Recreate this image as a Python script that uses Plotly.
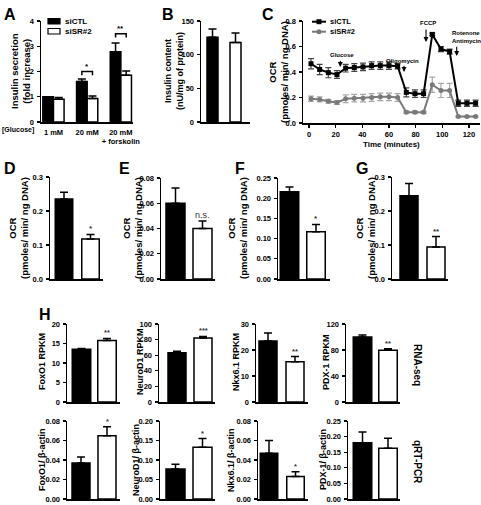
import plotly.graph_objects as go

W, H = 481, 505
FONT = "Liberation Sans"

# ---------------- data ----------------
groups = ["siCTL", "siSR#2"]

A_conditions = ["1 mM", "20 mM", "20 mM<br>+ forskolin"]
A_siCTL = [1.00, 1.60, 2.78]
A_siCTL_err = [0.0, 0.10, 0.35]
A_siSR2 = [0.90, 0.93, 1.85]
A_siSR2_err = [0.07, 0.10, 0.17]
A_sig = ["", "*", "**"]
A_bracket = [None, 2.0, 3.5]

B_content = [126, 118]
B_err = [12, 14]

C_time = [1.5, 8, 14.5, 21, 27.5, 34, 40.5, 47, 53.5, 60, 66.5, 73, 79.5, 86,
          92.5, 99, 105.5, 112, 118.5, 125]
C_siCTL = [0.465, 0.42, 0.395, 0.38, 0.43, 0.435, 0.44, 0.45, 0.45, 0.45, 0.445,
           0.24, 0.23, 0.23, 0.695, 0.58, 0.56, 0.155, 0.155, 0.155]
C_siCTL_err = [0.04, 0.04, 0.04, 0.03, 0.03, 0.03, 0.03, 0.03, 0.03, 0.03, 0.02,
               0.035, 0.03, 0.03, 0.01, 0.02, 0.02, 0.025, 0.025, 0.025]
C_siSR2 = [0.19, 0.185, 0.17, 0.16, 0.19, 0.195, 0.195, 0.20, 0.205, 0.205, 0.20,
           0.085, 0.085, 0.085, 0.30, 0.255, 0.255, 0.05, 0.05, 0.05]
C_siSR2_err = [0.02, 0.02, 0.015, 0.015, 0.03, 0.03, 0.03, 0.03, 0.03, 0.03, 0.03,
               0.01, 0.01, 0.01, 0.06, 0.055, 0.055, 0.005, 0.005, 0.005]
C_events = ["Glucose", "Oligomycin", "FCCP", "Rotenone<br>Antimycin"]
C_event_time = [23.5, 71.3, 87.8, 110.8]

D_ocr = [0.235, 0.118]; D_err = [0.020, 0.013]; D_sig = "*"
E_ocr = [0.060, 0.040]; E_err = [0.012, 0.006]; E_sig = "n.s."
F_ocr = [0.216, 0.117]; F_err = [0.012, 0.018]; F_sig = "*"
G_ocr = [0.245, 0.094]; G_err = [0.036, 0.031]; G_sig = "**"

H_genes = ["FoxO1", "NeuroD1", "Nkx6.1", "PDX-1"]
H_rpkm = [[13.5, 15.8], [63, 82], [23.5, 15.5], [100, 79.5]]
H_rpkm_err = [[0.2, 0.5], [2, 2], [3, 2], [3, 2.5]]
H_rpkm_sig = ["**", "***", "**", "**"]
H_qpcr = [[0.037, 0.065], [0.077, 0.133], [0.047, 0.023], [0.18, 0.163]]
H_qpcr_err = [[0.006, 0.009], [0.012, 0.022], [0.013, 0.005], [0.035, 0.032]]
H_qpcr_sig = ["*", "*", "*", ""]

# ---------------- helpers ----------------
fig = go.Figure()
axes = {}
annotations = []
shapes = []
count = [0]


def tf(size=8):
    return dict(family=FONT, size=size, color="black", weight="bold")


def new_axes(left, right, top, bottom, xkw, ykw):
    count[0] += 1
    n = count[0]
    sx = "" if n == 1 else str(n)
    xa = dict(domain=[left / W, right / W], anchor="y" + sx, showline=True,
              linecolor="black", linewidth=1.5, showgrid=False, zeroline=False,
              ticks="", showticklabels=False, fixedrange=True, automargin=False)
    xa.update(xkw)
    ya = dict(domain=[1 - bottom / H, 1 - top / H], anchor="x" + sx, showline=True,
              linecolor="black", linewidth=1.5, showgrid=False, zeroline=False,
              ticks="outside", ticklen=3, tickwidth=1.2, tickcolor="black",
              tickfont=tf(7.5), ticklabelstandoff=1, fixedrange=True, automargin=False)
    ya.update(ykw)
    axes["xaxis" + sx] = xa
    axes["yaxis" + sx] = ya
    return "x" + sx, "y" + sx


def ytitle(text, x, y, size=9):
    annotations.append(dict(text=text, x=x / W, y=1 - y / H, xref="paper", yref="paper",
                            textangle=-90, showarrow=False, font=tf(size),
                            xanchor="center", yanchor="middle"))


def letter(text, x, y):
    annotations.append(dict(text=text, x=x / W, y=1 - y / H, xref="paper", yref="paper",
                            showarrow=False, font=tf(16), xanchor="left", yanchor="top"))


def bar_panel(values, errs, sig, geom, top, bottom, ymax, dtick, fmt, sig_size=8):
    L, bl, br, wl, wr, R = geom
    c0 = (bl + br) / 2
    c1 = (wl + wr) / 2
    s = c1 - c0
    xr = [-(c0 - L) / s, 1 + (R - c1) / s]
    bw = ((br - bl) + (wr - wl)) / 2 / s
    xa, ya = new_axes(L, R, top, bottom, dict(type="category", range=xr),
                      dict(range=[0, ymax], dtick=dtick, tick0=0, tickformat=fmt))
    fig.add_trace(go.Bar(
        x=groups, y=values, width=bw, xaxis=xa, yaxis=ya, showlegend=False,
        marker=dict(color=["black", "white"], line=dict(color="black", width=1.5)),
        error_y=dict(type="data", array=errs, arrayminus=[0, 0], symmetric=False,
                     color="black", thickness=1.5, width=4)))
    if sig:
        annotations.append(dict(
            text=sig, x=groups[1], y=values[1] + errs[1], xref=xa, yref=ya,
            showarrow=False, yanchor="bottom", yshift=-1,
            font=dict(family=FONT, size=sig_size, color="#333333",
                      weight="normal" if sig == "n.s." else "bold")))
    return xa, ya


# ---------------- panel A ----------------
xa, ya = new_axes(41, 133, 21, 122,
                  dict(type="category", range=[-0.37, 2.36], showticklabels=True,
                       tickangle=0, tickfont=tf(7.5), ticklabelstandoff=2),
                  dict(range=[0, 4], dtick=1))
bw = 0.315
fig.add_trace(go.Bar(x=A_conditions, y=A_siCTL, width=bw, offset=-bw, xaxis=xa, yaxis=ya,
                     name="siCTL", showlegend=False,
                     marker=dict(color="black", line=dict(color="black", width=1.5)),
                     error_y=dict(type="data", array=A_siCTL_err, arrayminus=[0, 0, 0],
                                  symmetric=False, color="black", thickness=1.5, width=4)))
fig.add_trace(go.Bar(x=A_conditions, y=A_siSR2, width=bw, offset=0, xaxis=xa, yaxis=ya,
                     name="siSR#2", showlegend=False,
                     marker=dict(color="white", line=dict(color="black", width=1.5)),
                     error_y=dict(type="data", array=A_siSR2_err, arrayminus=[0, 0, 0],
                                  symmetric=False, color="black", thickness=1.5, width=4)))
for i, (h, sig) in enumerate(zip(A_bracket, A_sig)):
    if h is None:
        continue
    x0, x1 = i - bw / 2, i + bw / 2
    shapes.append(dict(type="path", xref=xa, yref=ya,
                       path=f"M{x0},{h - 0.15} L{x0},{h} L{x1},{h} L{x1},{h - 0.15}",
                       line=dict(color="black", width=1.5)))
    annotations.append(dict(text=sig, x=i, y=h, xref=xa, yref=ya, showarrow=False,
                            yanchor="bottom", yshift=-1, font=tf(8)))
annotations.append(dict(text="[Glucose]", x=0 / W, y=1 - 130 / H, xref="paper", yref="paper",
                        showarrow=False, xanchor="left", yanchor="middle", font=tf(7)))
ytitle("Insulin secretion<br>(fold increase)", 20, 71, 9.5)
letter("A", 2, 4)
# legend A (manual)
shapes.append(dict(type="rect", xref="paper", yref="paper", x0=48 / W, x1=60 / W,
                   y0=1 - 24 / H, y1=1 - 18.5 / H, fillcolor="black",
                   line=dict(color="black", width=1.2)))
shapes.append(dict(type="rect", xref="paper", yref="paper", x0=48 / W, x1=60 / W,
                   y0=1 - 34 / H, y1=1 - 28.5 / H, fillcolor="white",
                   line=dict(color="black", width=1.2)))
for t, yy in zip(groups, [21.3, 31.3]):
    annotations.append(dict(text=t, x=63 / W, y=1 - yy / H, xref="paper", yref="paper",
                            showarrow=False, xanchor="left", yanchor="middle", font=tf(8)))

# ---------------- panel B ----------------
bar_panel(B_content, B_err, "", (201, 207, 218, 230, 241, 250), 21, 122, 150, 50, "d")
ytitle("Insulin content<br>(nU/mg of protein)", 174, 71, 9)
letter("B", 160, 4)

# ---------------- panel C ----------------
xa, ya = new_axes(303, 480, 21, 123,
                  dict(range=[-4.5, 128.3], showticklabels=True, ticks="outside", ticklen=3,
                       tickwidth=1.2, tickcolor="black", dtick=20, tick0=0, tickfont=tf(7.5),
                       ticklabelstandoff=0),
                  dict(range=[0, 0.8], dtick=0.2, tickformat=".1f"))
fig.add_trace(go.Scatter(x=C_time, y=C_siSR2, xaxis=xa, yaxis=ya, mode="lines+markers",
                         name="siSR#2", showlegend=False,
                         line=dict(color="#7a7a7a", width=2),
                         marker=dict(symbol="circle", size=5, color="#7a7a7a"),
                         error_y=dict(type="data", array=C_siSR2_err, color="#a8a8a8",
                                      thickness=1.2, width=3)))
fig.add_trace(go.Scatter(x=C_time, y=C_siCTL, xaxis=xa, yaxis=ya, mode="lines+markers",
                         name="siCTL", showlegend=False,
                         line=dict(color="black", width=2),
                         marker=dict(symbol="square", size=5, color="black"),
                         error_y=dict(type="data", array=C_siCTL_err, color="#444444",
                                      thickness=1.2, width=3)))
arrow_tip = [0.44, 0.40, 0.635, 0.525]
arrow_tail = [0.50, 0.46, 0.745, 0.61]
label_pos = [(24.5, 0.535), (70.3, 0.49), (89.5, 0.785), (106.0, 0.675)]
label_anchor = ["center", "center", "center", "left"]
for ev, t, tip, tail, (lx, ly), anc in zip(C_events, C_event_time, arrow_tip, arrow_tail,
                                           label_pos, label_anchor):
    annotations.append(dict(text="", x=t, y=tip, ax=t, ay=tail, xref=xa, yref=ya,
                            axref=xa, ayref=ya, showarrow=True, arrowhead=2,
                            arrowsize=0.9, arrowwidth=1.1, arrowcolor="black"))
    annotations.append(dict(text=ev, x=lx, y=ly, xref=xa, yref=ya, showarrow=False,
                            font=tf(6), xanchor=anc, yanchor="middle", align="left"))
annotations.append(dict(text="Time (minutes)", x=391 / W, y=1 - 144 / H, xref="paper",
                        yref="paper", showarrow=False, font=tf(8), xanchor="center",
                        yanchor="middle", borderpad=0))
ytitle("OCR<br>(pmoles/ min/ ng DNA)", 278, 72, 9.5)
letter("C", 260, 4)
# legend C (manual)
shapes.append(dict(type="line", xref="paper", yref="paper", x0=312 / W, x1=326 / W,
                   y0=1 - 21.7 / H, y1=1 - 21.7 / H, line=dict(color="black", width=2)))
shapes.append(dict(type="rect", xref="paper", yref="paper", x0=316.5 / W, x1=321.5 / W,
                   y0=1 - 24.2 / H, y1=1 - 19.2 / H, fillcolor="black",
                   line=dict(color="black", width=0)))
shapes.append(dict(type="line", xref="paper", yref="paper", x0=312 / W, x1=326 / W,
                   y0=1 - 31.7 / H, y1=1 - 31.7 / H, line=dict(color="#7a7a7a", width=2)))
shapes.append(dict(type="circle", xref="paper", yref="paper", x0=316.5 / W, x1=321.5 / W,
                   y0=1 - 34.2 / H, y1=1 - 29.2 / H, fillcolor="#7a7a7a",
                   line=dict(color="#7a7a7a", width=0)))
for t, yy in zip(groups, [21.7, 31.7]):
    annotations.append(dict(text=t, x=328 / W, y=1 - yy / H, xref="paper", yref="paper",
                            showarrow=False, xanchor="left", yanchor="middle", font=tf(7.5)))

# ---------------- panels D-G ----------------
ocr_title = "OCR<br>(pmoles/ min/ ng DNA)"
bar_panel(D_ocr, D_err, D_sig, (50, 55, 73, 82, 99, 103), 177, 279, 0.3, 0.1, ".1f")
ytitle(ocr_title, 19, 228, 9.5)
letter("D", 2, 158)
bar_panel(E_ocr, E_err, E_sig, (161, 166, 185, 193, 212, 215), 178, 279, 0.08, 0.02, ".2f", 9)
ytitle(ocr_title, 133, 228, 9.5)
letter("E", 117, 158)
bar_panel(F_ocr, F_err, F_sig, (278, 280, 299, 307, 325, 330), 178, 279, 0.25, 0.05, ".2f")
ytitle(ocr_title, 238, 228, 9.5)
letter("F", 233, 158)
bar_panel(G_ocr, G_err, G_sig, (392, 400, 418, 427, 445, 448), 177, 279, 0.3, 0.1, ".1f")
ytitle(ocr_title, 366, 228, 9.5)
letter("G", 354, 158)

# ---------------- panel H ----------------
letter("H", 37, 304)
rpkm_geom = [(67, 72, 91, 98, 116, 120), (159, 168, 186, 194, 212, 215),
             (256, 259, 277, 286, 304, 308), (346, 353, 372, 379, 397, 400)]
rpkm_max = [20, 100, 30, 120]
rpkm_dtick = [5, 20, 10, 40]
qpcr_geom = [(67, 72, 90, 98, 116, 120), (160, 166, 185, 193, 212, 215),
             (258, 260, 278, 287, 304, 308), (348, 353, 372, 379, 397, 400)]
qpcr_max = [0.08, 0.20, 0.08, 0.25]
qpcr_dtick = [0.02, 0.05, 0.02, 0.05]
title_x_top = [42, 140, 236, 326]
title_x_bot = [42, 136, 231, 323]
for i, g in enumerate(H_genes):
    bar_panel(H_rpkm[i], H_rpkm_err[i], H_rpkm_sig[i], rpkm_geom[i], 324, 402,
              rpkm_max[i], rpkm_dtick[i], "d", 7.5)
    ytitle(f"{g} RPKM", title_x_top[i], 362, 9)
    bar_panel(H_qpcr[i], H_qpcr_err[i], H_qpcr_sig[i], qpcr_geom[i], 421, 499,
              qpcr_max[i], qpcr_dtick[i], ".2f", 7.5)
    ytitle(f"{g}/ β-actin", title_x_bot[i], 460, 9)

for t, yy in [("RNA-seq", 365), ("qRT-PCR", 462)]:
    annotations.append(dict(text=t, x=418 / W, y=1 - yy / H, xref="paper", yref="paper",
                            textangle=90, showarrow=False, font=tf(10),
                            xanchor="center", yanchor="middle"))

fig.update_layout(width=W, height=H, autosize=False, margin=dict(l=0, r=0, t=0, b=0),
                  paper_bgcolor="white", plot_bgcolor="white",
                  font=dict(family=FONT, color="black"), showlegend=False,
                  barmode="overlay", annotations=annotations, shapes=shapes, **axes)
fig.write_html("out.html", config={"displayModeBar": False, "staticPlot": True},
               post_script="document.body.style.margin='0';document.body.style.overflow='hidden';")
